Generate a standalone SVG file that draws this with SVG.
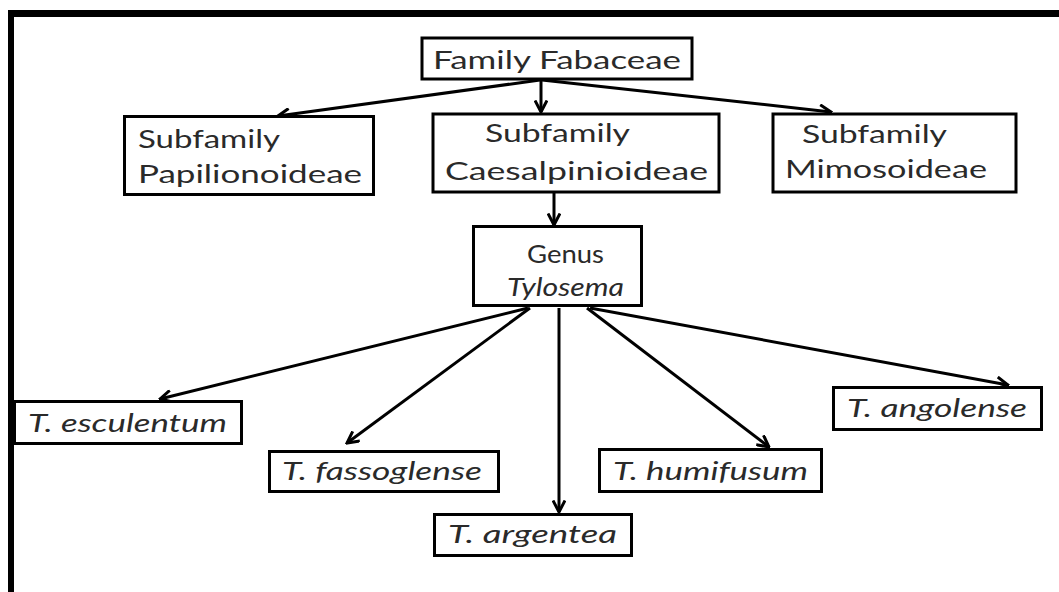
<svg xmlns="http://www.w3.org/2000/svg" width="1059" height="592" viewBox="0 0 1059 592">
<style>
.box{fill:#fff;stroke:#000;stroke-width:3}
.t{font-family:Lato,"Open Sans","Liberation Sans",sans-serif;font-size:25px;fill:#2a2a2a}
.i{font-style:italic}
.c{stroke:#000;stroke-width:3;fill:none;marker-end:url(#ah)}
</style>
<defs>
<marker id="ah" viewBox="0 0 14 14" refX="12.5" refY="7" markerWidth="14" markerHeight="14" markerUnits="userSpaceOnUse" orient="auto">
<path d="M1,1 L12.5,7 L1,13" fill="none" stroke="#000" stroke-width="3"/>
</marker>
</defs>
<rect width="1059" height="592" fill="#fff"/>
<rect x="8" y="10" width="1051" height="7" fill="#000"/>
<rect x="8" y="10" width="6" height="582" fill="#000"/>
<g id="connectors">
<line class="c" x1="540" y1="80" x2="278" y2="116"/>
<line class="c" x1="541" y1="80" x2="541" y2="112"/>
<line class="c" x1="542" y1="80" x2="831" y2="112"/>
<line class="c" x1="554" y1="193" x2="554" y2="225"/>
<line class="c" x1="528" y1="308" x2="160" y2="399"/>
<line class="c" x1="530" y1="308" x2="347" y2="443"/>
<line class="c" x1="559" y1="308" x2="559" y2="512"/>
<line class="c" x1="587" y1="308" x2="769" y2="447"/>
<line class="c" x1="590" y1="308" x2="1008" y2="385"/>
</g>
<g id="family">
<rect class="box" x="422" y="38" width="270" height="41"/>
<text class="t" x="433" y="69" textLength="248" lengthAdjust="spacingAndGlyphs">Family Fabaceae</text>
</g>
<g id="papilionoideae">
<rect class="box" x="124.5" y="116.5" width="249" height="78"/>
<text class="t" x="138" y="148" textLength="142" lengthAdjust="spacingAndGlyphs">Subfamily</text>
<text class="t" x="138" y="183" textLength="224" lengthAdjust="spacingAndGlyphs">Papilionoideae</text>
</g>
<g id="caesalpinioideae">
<rect class="box" x="433" y="114" width="286" height="78"/>
<text class="t" x="485" y="142" textLength="145" lengthAdjust="spacingAndGlyphs">Subfamily</text>
<text class="t" x="445" y="180" textLength="263" lengthAdjust="spacingAndGlyphs">Caesalpinioideae</text>
</g>
<g id="mimosoideae">
<rect class="box" x="773" y="114" width="243" height="78"/>
<text class="t" x="802" y="143" textLength="145" lengthAdjust="spacingAndGlyphs">Subfamily</text>
<text class="t" x="785" y="178" textLength="202" lengthAdjust="spacingAndGlyphs">Mimosoideae</text>
</g>
<g id="tylosema">
<rect class="box" x="473.5" y="226.5" width="168" height="79"/>
<text class="t" x="527" y="263" textLength="77" lengthAdjust="spacingAndGlyphs">Genus</text>
<text class="t i" x="507" y="296" textLength="117" lengthAdjust="spacingAndGlyphs">Tylosema</text>
</g>
<g id="esculentum">
<rect class="box" x="14.5" y="401.5" width="227" height="42"/>
<text class="t i" x="28" y="432" textLength="199" lengthAdjust="spacingAndGlyphs">T. esculentum</text>
</g>
<g id="fassoglense">
<rect class="box" x="269.5" y="451.5" width="229" height="40"/>
<text class="t i" x="282" y="480" textLength="200" lengthAdjust="spacingAndGlyphs">T. fassoglense</text>
</g>
<g id="argentea">
<rect class="box" x="434.5" y="514.5" width="197" height="41"/>
<text class="t i" x="448" y="543" textLength="169" lengthAdjust="spacingAndGlyphs">T. argentea</text>
</g>
<g id="humifusum">
<rect class="box" x="599.5" y="449.5" width="222" height="42"/>
<text class="t i" x="613" y="480" textLength="195" lengthAdjust="spacingAndGlyphs">T. humifusum</text>
</g>
<g id="angolense">
<rect class="box" x="833.5" y="387.5" width="208" height="42"/>
<text class="t i" x="847" y="417" textLength="180" lengthAdjust="spacingAndGlyphs">T. angolense</text>
</g>
</svg>
